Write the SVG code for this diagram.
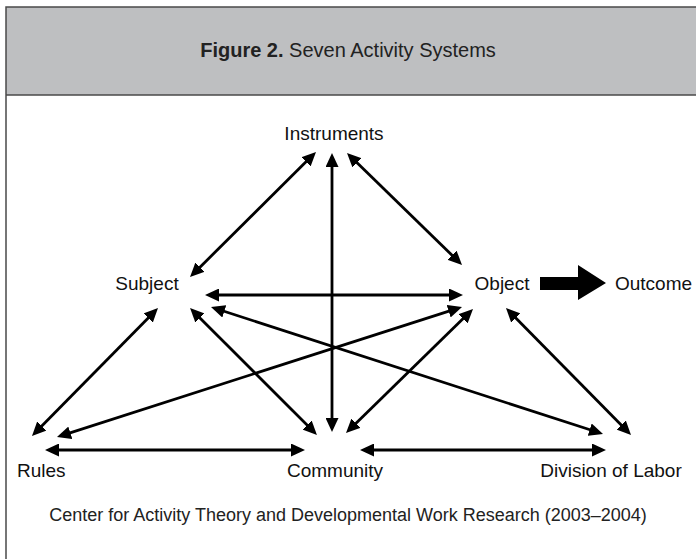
<svg xmlns="http://www.w3.org/2000/svg" width="696" height="559" viewBox="0 0 696 559">
<style>
.lbl{font-family:"Liberation Sans",Arial,sans-serif;font-size:19px;fill:#111}
.cap{font-family:"Liberation Sans",Arial,sans-serif;font-size:18px;fill:#222}
.ttl{font-family:"Liberation Sans",Arial,sans-serif;font-size:20px;fill:#222}
.c{stroke:#000;stroke-width:2.8;fill:none;marker-start:url(#ah);marker-end:url(#ah)}
</style>
<defs>
<marker id="ah" markerUnits="userSpaceOnUse" viewBox="0 0 14 13" markerWidth="14" markerHeight="13" refX="6" refY="6.5" orient="auto-start-reverse">
<path d="M0,0 L14,6.5 L0,13 Z" fill="#000"/>
</marker>
</defs>
<rect x="0" y="0" width="696" height="559" fill="#fff"/>
<g id="frame">
<rect x="6" y="7" width="700" height="88" fill="#bebfc1"/>
<path d="M6,559 V7 H700 M6,95 H700" stroke="#4a4a4a" stroke-width="1.5" fill="none"/>
<text class="ttl" x="348" y="57" text-anchor="middle"><tspan font-weight="bold">Figure 2.</tspan> Seven Activity Systems</text>
</g>
<g id="connectors">
<line class="c" x1="195.7" y1="271.4" x2="310.3" y2="157.6"/>
<line class="c" x1="332" y1="161" x2="332" y2="424"/>
<line class="c" x1="352.7" y1="158.6" x2="456.3" y2="259.4"/>
<line class="c" x1="213" y1="295" x2="455" y2="295"/>
<line class="c" x1="218.6" y1="309.5" x2="595.4" y2="431.5"/>
<line class="c" x1="195.7" y1="313.7" x2="311.3" y2="429.3"/>
<line class="c" x1="152.4" y1="313.7" x2="37.6" y2="430.3"/>
<line class="c" x1="64.6" y1="434.6" x2="454.4" y2="309.4"/>
<line class="c" x1="351.7" y1="427.4" x2="467.3" y2="314.6"/>
<line class="c" x1="511.6" y1="313.7" x2="625.4" y2="429.3"/>
<line class="c" x1="53" y1="450" x2="297" y2="450"/>
<line class="c" x1="368" y1="450" x2="598" y2="450"/>
<path id="bigarrow" d="M540,277 H578 V265 L606,283 L578,300 V290 H540 Z" fill="#000"/>
</g>
<g id="instruments"><text class="lbl" x="334" y="140" text-anchor="middle">Instruments</text></g>
<g id="subject"><text class="lbl" x="147" y="290" text-anchor="middle">Subject</text></g>
<g id="object"><text class="lbl" x="502" y="290" text-anchor="middle">Object</text></g>
<g id="outcome"><text class="lbl" x="615" y="290">Outcome</text></g>
<g id="rules"><text class="lbl" x="17" y="477">Rules</text></g>
<g id="community"><text class="lbl" x="335" y="477" text-anchor="middle">Community</text></g>
<g id="division"><text class="lbl" x="611" y="477" text-anchor="middle">Division of Labor</text></g>
<g id="caption"><text class="cap" x="348" y="521" text-anchor="middle">Center for Activity Theory and Developmental Work Research (2003–2004)</text></g>
</svg>
